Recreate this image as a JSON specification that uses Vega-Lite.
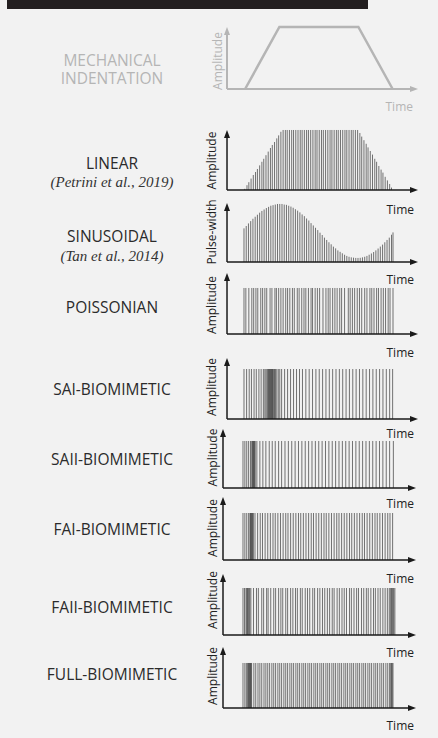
{
"$schema": "https://vega.github.io/schema/vega-lite/v6.json",
"autosize": {"type": "none"},
"padding": {"left": 7, "top": 0, "right": 431, "bottom": 738},
"background": "#f2f2f2",
"config": {"view": {"stroke": null}, "font": "Open Sans"},
"spacing": 0,
"bounds": "flush",
"vconcat": [
{"width": 361, "height": 9, "view": {"fill": "#231f20", "stroke": null}, "data": {"values": [{"part": "header"}]}, "mark": {"type": "rect", "color": "#231f20"}},

{"width": 411, "height": 80,
 "layer": [
  {"data": {"values": [{"t": 0.03, "a": 0}, {"t": 0.95, "a": 1}, {"t": 3.07, "a": 1}, {"t": 3.99, "a": 0}]},
   "mark": {"type": "line", "color": "#b5b5b5", "strokeWidth": 2.5},
   "encoding": {"x": {"field": "t", "type": "quantitative", "scale": {"domain": [-6.362, 4.671], "nice": false, "zero": false}, "axis": null},
                "y": {"field": "a", "type": "quantitative", "scale": {"domain": [0, 1.29], "nice": false, "zero": false}, "axis": null}}},
  {"data": {"values": [{"label": "MECHANICAL"}]}, "mark": {"type": "text", "font": "Open Sans", "fontSize": 15.5, "color": "#b5b5b5", "align": "center", "baseline": "middle"}, "encoding": {"text": {"field": "label"}, "x": {"datum": -3.544, "axis": null}, "y": {"datum": 0.45, "axis": null}}},
  {"data": {"values": [{"label": "INDENTATION"}]}, "mark": {"type": "text", "font": "Open Sans", "fontSize": 15.5, "color": "#b5b5b5", "align": "center", "baseline": "middle"}, "encoding": {"text": {"field": "label"}, "x": {"datum": -3.544, "axis": null}, "y": {"datum": 0.165, "axis": null}}},
  {"data": {"values": [{"label": "Amplitude"}]}, "mark": {"type": "text", "angle": 270, "font": "Open Sans", "fontSize": 12, "color": "#b5b5b5", "align": "center", "baseline": "middle"}, "encoding": {"text": {"field": "label"}, "x": {"datum": -0.711, "axis": null}, "y": {"datum": 0.452, "axis": null}}},
  {"data": {"values": [{"label": "Time"}]}, "mark": {"type": "text", "font": "Open Sans", "fontSize": 12, "color": "#b5b5b5", "align": "right", "baseline": "middle"}, "encoding": {"text": {"field": "label"}, "x": {"datum": 4.537, "axis": null}, "y": {"datum": -0.29, "scale": {"domain": [0, 1.29], "nice": false, "zero": false}, "axis": null}}},
  {"data": {"values": [{}]}, "mark": {"type": "rule", "color": "#b5b5b5", "strokeWidth": 2}, "encoding": {"x": {"datum": -0.456, "axis": null}, "x2": {"datum": 4.564}, "y": {"datum": 0, "axis": null}}},
  {"data": {"values": [{}]}, "mark": {"type": "rule", "color": "#b5b5b5", "strokeWidth": 2}, "encoding": {"x": {"datum": -0.456, "axis": null}, "y": {"datum": 0, "axis": null}, "y2": {"datum": 0.935}}},
  {"data": {"values": [{}]}, "mark": {"type": "point", "shape": "M0,0L1.5,4L-1.5,4Z", "size": 16, "filled": true, "opacity": 1, "color": "#b5b5b5", "strokeWidth": 0}, "encoding": {"x": {"datum": -0.456, "axis": null}, "y": {"datum": 1.0, "axis": null}}},
  {"data": {"values": [{}]}, "mark": {"type": "point", "shape": "M0,0L-4,-1.5L-4,1.5Z", "size": 16, "filled": true, "opacity": 1, "color": "#b5b5b5", "strokeWidth": 0}, "encoding": {"x": {"datum": 4.671, "axis": null}, "y": {"datum": 0, "axis": null}}}
 ]},

{"width": 411, "height": 101,
 "layer": [
  {"data": {"values": [{"t":0.02,"a":0.02},{"t":0.08,"a":0.08},{"t":0.13,"a":0.13},{"t":0.19,"a":0.19},{"t":0.25,"a":0.25},{"t":0.31,"a":0.3},{"t":0.36,"a":0.35},{"t":0.42,"a":0.41},{"t":0.48,"a":0.47},{"t":0.53,"a":0.52},{"t":0.59,"a":0.58},{"t":0.65,"a":0.64},{"t":0.71,"a":0.7},{"t":0.76,"a":0.75},{"t":0.82,"a":0.8},{"t":0.88,"a":0.86},{"t":0.93,"a":0.91},{"t":0.99,"a":0.97},{"t":1.05,"a":1},{"t":1.11,"a":1},{"t":1.16,"a":1},{"t":1.22,"a":1},{"t":1.28,"a":1},{"t":1.33,"a":1},{"t":1.39,"a":1},{"t":1.45,"a":1},{"t":1.51,"a":1},{"t":1.56,"a":1},{"t":1.62,"a":1},{"t":1.68,"a":1},{"t":1.73,"a":1},{"t":1.79,"a":1},{"t":1.85,"a":1},{"t":1.91,"a":1},{"t":1.96,"a":1},{"t":2.02,"a":1},{"t":2.08,"a":1},{"t":2.13,"a":1},{"t":2.19,"a":1},{"t":2.25,"a":1},{"t":2.31,"a":1},{"t":2.36,"a":1},{"t":2.42,"a":1},{"t":2.48,"a":1},{"t":2.53,"a":1},{"t":2.59,"a":1},{"t":2.65,"a":1},{"t":2.71,"a":1},{"t":2.76,"a":1},{"t":2.82,"a":1},{"t":2.88,"a":1},{"t":2.93,"a":1},{"t":2.99,"a":1},{"t":3.05,"a":1},{"t":3.11,"a":0.95},{"t":3.16,"a":0.89},{"t":3.22,"a":0.83},{"t":3.28,"a":0.77},{"t":3.33,"a":0.71},{"t":3.39,"a":0.65},{"t":3.45,"a":0.59},{"t":3.51,"a":0.52},{"t":3.56,"a":0.47},{"t":3.62,"a":0.4},{"t":3.68,"a":0.34},{"t":3.73,"a":0.29},{"t":3.79,"a":0.22},{"t":3.85,"a":0.16},{"t":3.91,"a":0.1},{"t":3.96,"a":0.04}]},
   "mark": {"type": "rule", "color": "#3a3a3a", "strokeWidth": 0.7},
   "encoding": {"x": {"field": "t", "type": "quantitative", "scale": {"domain": [-6.362, 4.671], "nice": false, "zero": false}, "axis": null},
                "y": {"field": "a", "type": "quantitative", "scale": {"domain": [0, 1.683], "nice": false, "zero": false}, "axis": null},
                "y2": {"datum": 0}}},
  {"data": {"values": [{"label": "LINEAR"}]}, "mark": {"type": "text", "font": "Open Sans", "fontSize": 15.5, "color": "#2b2b2b", "align": "center", "baseline": "middle"}, "encoding": {"text": {"field": "label"}, "x": {"datum": -3.544, "axis": null}, "y": {"datum": 0.434, "axis": null}}},
  {"data": {"values": [{"label": "(Petrini et al., 2019)"}]}, "mark": {"type": "text", "font": "Liberation Serif", "fontStyle": "italic", "fontSize": 15, "color": "#333333", "align": "center", "baseline": "middle"}, "encoding": {"text": {"field": "label"}, "x": {"datum": -3.544, "axis": null}, "y": {"datum": 0.133, "axis": null}}},
  {"data": {"values": [{"label": "Amplitude"}]}, "mark": {"type": "text", "angle": 270, "font": "Open Sans", "fontSize": 12, "color": "#222222", "align": "center", "baseline": "middle"}, "encoding": {"text": {"field": "label"}, "x": {"datum": -0.846, "axis": null}, "y": {"datum": 0.492, "axis": null}}},
  {"data": {"values": [{"label": "Time"}]}, "mark": {"type": "text", "font": "Open Sans", "fontSize": 12, "color": "#222222", "align": "right", "baseline": "middle"}, "encoding": {"text": {"field": "label"}, "x": {"datum": 4.564, "axis": null}, "y": {"datum": -0.334, "scale": {"domain": [0, 1.683], "nice": false, "zero": false}, "axis": null}}},
  {"data": {"values": [{}]}, "mark": {"type": "rule", "color": "#1a1a1a", "strokeWidth": 1.5}, "encoding": {"x": {"datum": -0.456, "axis": null}, "x2": {"datum": 4.564}, "y": {"datum": 0, "axis": null}}},
  {"data": {"values": [{}]}, "mark": {"type": "rule", "color": "#1a1a1a", "strokeWidth": 1.5}, "encoding": {"x": {"datum": -0.456, "axis": null}, "y": {"datum": 0, "axis": null}, "y2": {"datum": 0.933}}},
  {"data": {"values": [{}]}, "mark": {"type": "point", "shape": "M0,0L1.5,4L-1.5,4Z", "size": 16, "filled": true, "opacity": 1, "color": "#1a1a1a", "strokeWidth": 0}, "encoding": {"x": {"datum": -0.456, "axis": null}, "y": {"datum": 1.0, "axis": null}}},
  {"data": {"values": [{}]}, "mark": {"type": "point", "shape": "M0,0L-4,-1.5L-4,1.5Z", "size": 16, "filled": true, "opacity": 1, "color": "#1a1a1a", "strokeWidth": 0}, "encoding": {"x": {"datum": 4.671, "axis": null}, "y": {"datum": 0, "axis": null}}}
 ]},

{"width": 411, "height": 72,
 "layer": [
  {"data": {"values": [{"t":0,"a":0.58},{"t":0.06,"a":0.62},{"t":0.12,"a":0.665},{"t":0.18,"a":0.705},{"t":0.24,"a":0.745},{"t":0.3,"a":0.78},{"t":0.36,"a":0.815},{"t":0.42,"a":0.85},{"t":0.48,"a":0.88},{"t":0.54,"a":0.905},{"t":0.6,"a":0.93},{"t":0.66,"a":0.95},{"t":0.72,"a":0.97},{"t":0.78,"a":0.98},{"t":0.84,"a":0.99},{"t":0.9,"a":1},{"t":0.96,"a":1},{"t":1.02,"a":1},{"t":1.08,"a":0.99},{"t":1.14,"a":0.985},{"t":1.2,"a":0.97},{"t":1.26,"a":0.955},{"t":1.32,"a":0.935},{"t":1.38,"a":0.91},{"t":1.44,"a":0.885},{"t":1.5,"a":0.855},{"t":1.56,"a":0.82},{"t":1.62,"a":0.79},{"t":1.68,"a":0.75},{"t":1.74,"a":0.715},{"t":1.8,"a":0.67},{"t":1.86,"a":0.63},{"t":1.92,"a":0.59},{"t":1.98,"a":0.55},{"t":2.04,"a":0.505},{"t":2.1,"a":0.465},{"t":2.16,"a":0.42},{"t":2.22,"a":0.38},{"t":2.28,"a":0.34},{"t":2.34,"a":0.305},{"t":2.4,"a":0.265},{"t":2.46,"a":0.235},{"t":2.52,"a":0.2},{"t":2.58,"a":0.175},{"t":2.64,"a":0.15},{"t":2.7,"a":0.125},{"t":2.76,"a":0.105},{"t":2.82,"a":0.09},{"t":2.88,"a":0.08},{"t":2.94,"a":0.075},{"t":3,"a":0.07},{"t":3.06,"a":0.07},{"t":3.12,"a":0.072},{"t":3.18,"a":0.08},{"t":3.24,"a":0.09},{"t":3.3,"a":0.105},{"t":3.36,"a":0.125},{"t":3.42,"a":0.147},{"t":3.48,"a":0.172},{"t":3.54,"a":0.2},{"t":3.6,"a":0.232},{"t":3.66,"a":0.266},{"t":3.72,"a":0.3},{"t":3.78,"a":0.34},{"t":3.84,"a":0.38},{"t":3.9,"a":0.42},{"t":3.96,"a":0.47},{"t":4.0,"a":0.51}]},
   "mark": {"type": "rule", "color": "#3a3a3a", "strokeWidth": 0.7},
   "encoding": {"x": {"field": "t", "type": "quantitative", "scale": {"domain": [-6.362, 4.671], "nice": false, "zero": false}, "axis": null},
                "y": {"field": "a", "type": "quantitative", "scale": {"domain": [0, 1.241], "nice": false, "zero": false}, "axis": null},
                "y2": {"datum": 0}}},
  {"data": {"values": [{"label": "SINUSOIDAL"}]}, "mark": {"type": "text", "font": "Open Sans", "fontSize": 15.5, "color": "#2b2b2b", "align": "center", "baseline": "middle"}, "encoding": {"text": {"field": "label"}, "x": {"datum": -3.544, "axis": null}, "y": {"datum": 0.437, "axis": null}}},
  {"data": {"values": [{"label": "(Tan et al., 2014)"}]}, "mark": {"type": "text", "font": "Liberation Serif", "fontStyle": "italic", "fontSize": 15, "color": "#333333", "align": "center", "baseline": "middle"}, "encoding": {"text": {"field": "label"}, "x": {"datum": -3.544, "axis": null}, "y": {"datum": 0.112, "axis": null}}},
  {"data": {"values": [{"label": "Pulse-width"}]}, "mark": {"type": "text", "angle": 270, "font": "Open Sans", "fontSize": 12, "color": "#222222", "align": "center", "baseline": "middle"}, "encoding": {"text": {"field": "label"}, "x": {"datum": -0.859, "axis": null}, "y": {"datum": 0.517, "axis": null}}},
  {"data": {"values": [{"label": "Time"}]}, "mark": {"type": "text", "font": "Open Sans", "fontSize": 12, "color": "#222222", "align": "right", "baseline": "middle"}, "encoding": {"text": {"field": "label"}, "x": {"datum": 4.564, "axis": null}, "y": {"datum": -0.31, "scale": {"domain": [0, 1.241], "nice": false, "zero": false}, "axis": null}}},
  {"data": {"values": [{}]}, "mark": {"type": "rule", "color": "#1a1a1a", "strokeWidth": 1.5}, "encoding": {"x": {"datum": -0.456, "axis": null}, "x2": {"datum": 4.564}, "y": {"datum": 0, "axis": null}}},
  {"data": {"values": [{}]}, "mark": {"type": "rule", "color": "#1a1a1a", "strokeWidth": 1.5}, "encoding": {"x": {"datum": -0.456, "axis": null}, "y": {"datum": 0, "axis": null}, "y2": {"datum": 0.948}}},
  {"data": {"values": [{}]}, "mark": {"type": "point", "shape": "M0,0L1.5,4L-1.5,4Z", "size": 16, "filled": true, "opacity": 1, "color": "#1a1a1a", "strokeWidth": 0}, "encoding": {"x": {"datum": -0.456, "axis": null}, "y": {"datum": 1.017, "axis": null}}},
  {"data": {"values": [{}]}, "mark": {"type": "point", "shape": "M0,0L-4,-1.5L-4,1.5Z", "size": 16, "filled": true, "opacity": 1, "color": "#1a1a1a", "strokeWidth": 0}, "encoding": {"x": {"datum": 4.671, "axis": null}, "y": {"datum": 0, "axis": null}}}
 ]},

{"width": 411, "height": 72,
 "layer": [
  {"data": {"values": [{"t":0},{"t":0.05},{"t":0.13},{"t":0.21},{"t":0.26},{"t":0.32},{"t":0.37},{"t":0.45},{"t":0.5},{"t":0.56},{"t":0.61},{"t":0.7},{"t":0.75},{"t":0.83},{"t":0.87},{"t":0.93},{"t":0.99},{"t":1.05},{"t":1.12},{"t":1.17},{"t":1.23},{"t":1.3},{"t":1.35},{"t":1.43},{"t":1.48},{"t":1.55},{"t":1.61},{"t":1.66},{"t":1.73},{"t":1.8},{"t":1.84},{"t":1.91},{"t":1.97},{"t":2.03},{"t":2.12},{"t":2.2},{"t":2.26},{"t":2.31},{"t":2.38},{"t":2.44},{"t":2.5},{"t":2.57},{"t":2.62},{"t":2.7},{"t":2.8},{"t":2.85},{"t":2.91},{"t":2.97},{"t":3.04},{"t":3.1},{"t":3.16},{"t":3.24},{"t":3.3},{"t":3.38},{"t":3.43},{"t":3.49},{"t":3.56},{"t":3.61},{"t":3.68},{"t":3.74},{"t":3.8},{"t":3.87},{"t":3.92},{"t":4.0}]},
   "mark": {"type": "rule", "color": "#3a3a3a", "strokeWidth": 0.7},
   "encoding": {"x": {"field": "t", "type": "quantitative", "scale": {"domain": [-6.362, 4.671], "nice": false, "zero": false}, "axis": null},
                "y": {"datum": 1, "type": "quantitative", "scale": {"domain": [0, 1.565], "nice": false, "zero": false}, "axis": null},
                "y2": {"datum": 0}}},
  {"data": {"values": [{"label": "POISSONIAN"}]}, "mark": {"type": "text", "font": "Open Sans", "fontSize": 15.5, "color": "#2b2b2b", "align": "center", "baseline": "middle"}, "encoding": {"text": {"field": "label"}, "x": {"datum": -3.544, "axis": null}, "y": {"datum": 0.561, "axis": null}}},
  {"data": {"values": [{"label": "Amplitude"}]}, "mark": {"type": "text", "angle": 270, "font": "Open Sans", "fontSize": 12, "color": "#222222", "align": "center", "baseline": "middle"}, "encoding": {"text": {"field": "label"}, "x": {"datum": -0.846, "axis": null}, "y": {"datum": 0.63, "axis": null}}},
  {"data": {"values": [{"label": "Time"}]}, "mark": {"type": "text", "font": "Open Sans", "fontSize": 12, "color": "#222222", "align": "right", "baseline": "middle"}, "encoding": {"text": {"field": "label"}, "x": {"datum": 4.564, "axis": null}, "y": {"datum": -0.413, "scale": {"domain": [0, 1.565], "nice": false, "zero": false}, "axis": null}}},
  {"data": {"values": [{}]}, "mark": {"type": "rule", "color": "#1a1a1a", "strokeWidth": 1.5}, "encoding": {"x": {"datum": -0.456, "axis": null}, "x2": {"datum": 4.564}, "y": {"datum": 0, "axis": null}}},
  {"data": {"values": [{}]}, "mark": {"type": "rule", "color": "#1a1a1a", "strokeWidth": 1.5}, "encoding": {"x": {"datum": -0.456, "axis": null}, "y": {"datum": 0, "axis": null}, "y2": {"datum": 1.239}}},
  {"data": {"values": [{}]}, "mark": {"type": "point", "shape": "M0,0L1.5,4L-1.5,4Z", "size": 16, "filled": true, "opacity": 1, "color": "#1a1a1a", "strokeWidth": 0}, "encoding": {"x": {"datum": -0.456, "axis": null}, "y": {"datum": 1.326, "axis": null}}},
  {"data": {"values": [{}]}, "mark": {"type": "point", "shape": "M0,0L-4,-1.5L-4,1.5Z", "size": 16, "filled": true, "opacity": 1, "color": "#1a1a1a", "strokeWidth": 0}, "encoding": {"x": {"datum": 4.671, "axis": null}, "y": {"datum": 0, "axis": null}}}
 ]},

{"width": 411, "height": 85,
 "layer": [
  {"data": {"values": [{"t":0},{"t":0.07},{"t":0.14},{"t":0.2},{"t":0.27},{"t":0.33},{"t":0.4},{"t":0.46},{"t":0.52},{"t":0.56},{"t":0.59},{"t":0.62},{"t":0.64},{"t":0.66},{"t":0.675},{"t":0.69},{"t":0.705},{"t":0.72},{"t":0.735},{"t":0.75},{"t":0.765},{"t":0.78},{"t":0.8},{"t":0.82},{"t":0.845},{"t":0.88},{"t":0.92},{"t":0.96},{"t":1.01},{"t":1.09},{"t":1.17},{"t":1.25},{"t":1.33},{"t":1.41},{"t":1.49},{"t":1.57},{"t":1.66},{"t":1.75},{"t":1.84},{"t":1.93},{"t":2.02},{"t":2.11},{"t":2.2},{"t":2.29},{"t":2.38},{"t":2.47},{"t":2.56},{"t":2.65},{"t":2.74},{"t":2.83},{"t":2.92},{"t":3.01},{"t":3.1},{"t":3.19},{"t":3.28},{"t":3.37},{"t":3.46},{"t":3.55},{"t":3.64},{"t":3.73},{"t":3.82},{"t":3.91},{"t":3.99}]},
   "mark": {"type": "rule", "color": "#3a3a3a", "strokeWidth": 0.7},
   "encoding": {"x": {"field": "t", "type": "quantitative", "scale": {"domain": [-6.362, 4.671], "nice": false, "zero": false}, "axis": null},
                "y": {"datum": 1, "type": "quantitative", "scale": {"domain": [0, 1.7], "nice": false, "zero": false}, "axis": null},
                "y2": {"datum": 0}}},
  {"data": {"values": [{"label": "SAI-BIOMIMETIC"}]}, "mark": {"type": "text", "font": "Open Sans", "fontSize": 15.5, "color": "#2b2b2b", "align": "center", "baseline": "middle"}, "encoding": {"text": {"field": "label"}, "x": {"datum": -3.544, "axis": null}, "y": {"datum": 0.59, "axis": null}}},
  {"data": {"values": [{"label": "Amplitude"}]}, "mark": {"type": "text", "angle": 270, "font": "Open Sans", "fontSize": 12, "color": "#222222", "align": "center", "baseline": "middle"}, "encoding": {"text": {"field": "label"}, "x": {"datum": -0.846, "axis": null}, "y": {"datum": 0.64, "axis": null}}},
  {"data": {"values": [{"label": "Time"}]}, "mark": {"type": "text", "font": "Open Sans", "fontSize": 12, "color": "#222222", "align": "right", "baseline": "middle"}, "encoding": {"text": {"field": "label"}, "x": {"datum": 4.564, "axis": null}, "y": {"datum": -0.3, "scale": {"domain": [0, 1.7], "nice": false, "zero": false}, "axis": null}}},
  {"data": {"values": [{}]}, "mark": {"type": "rule", "color": "#1a1a1a", "strokeWidth": 1.5}, "encoding": {"x": {"datum": -0.456, "axis": null}, "x2": {"datum": 4.564}, "y": {"datum": 0, "axis": null}}},
  {"data": {"values": [{}]}, "mark": {"type": "rule", "color": "#1a1a1a", "strokeWidth": 1.5}, "encoding": {"x": {"datum": -0.456, "axis": null}, "y": {"datum": 0, "axis": null}, "y2": {"datum": 1.14}}},
  {"data": {"values": [{}]}, "mark": {"type": "point", "shape": "M0,0L1.5,4L-1.5,4Z", "size": 16, "filled": true, "opacity": 1, "color": "#1a1a1a", "strokeWidth": 0}, "encoding": {"x": {"datum": -0.456, "axis": null}, "y": {"datum": 1.22, "axis": null}}},
  {"data": {"values": [{}]}, "mark": {"type": "point", "shape": "M0,0L-4,-1.5L-4,1.5Z", "size": 16, "filled": true, "opacity": 1, "color": "#1a1a1a", "strokeWidth": 0}, "encoding": {"x": {"datum": 4.671, "axis": null}, "y": {"datum": 0, "axis": null}}}
 ]},

{"width": 411, "height": 69,
 "layer": [
  {"data": {"values": [{"t":0},{"t":0.05},{"t":0.1},{"t":0.15},{"t":0.2},{"t":0.235},{"t":0.25},{"t":0.265},{"t":0.28},{"t":0.295},{"t":0.31},{"t":0.325},{"t":0.37},{"t":0.45},{"t":0.53},{"t":0.61},{"t":0.7},{"t":0.78},{"t":0.86},{"t":0.95},{"t":1.03},{"t":1.12},{"t":1.21},{"t":1.3},{"t":1.39},{"t":1.48},{"t":1.57},{"t":1.66},{"t":1.75},{"t":1.84},{"t":1.93},{"t":2.02},{"t":2.11},{"t":2.2},{"t":2.29},{"t":2.38},{"t":2.47},{"t":2.56},{"t":2.65},{"t":2.74},{"t":2.83},{"t":2.92},{"t":3.01},{"t":3.1},{"t":3.19},{"t":3.28},{"t":3.37},{"t":3.46},{"t":3.55},{"t":3.64},{"t":3.73},{"t":3.82},{"t":3.91},{"t":4.01}]},
   "mark": {"type": "rule", "color": "#3a3a3a", "strokeWidth": 0.7},
   "encoding": {"x": {"field": "t", "type": "quantitative", "scale": {"domain": [-6.293, 4.667], "nice": false, "zero": false}, "axis": null},
                "y": {"datum": 1, "type": "quantitative", "scale": {"domain": [0, 1.468], "nice": false, "zero": false}, "axis": null},
                "y2": {"datum": 0}}},
  {"data": {"values": [{"label": "SAII-BIOMIMETIC"}]}, "mark": {"type": "text", "font": "Open Sans", "fontSize": 15.5, "color": "#2b2b2b", "align": "center", "baseline": "middle"}, "encoding": {"text": {"field": "label"}, "x": {"datum": -3.493, "axis": null}, "y": {"datum": 0.6, "axis": null}}},
  {"data": {"values": [{"label": "Amplitude"}]}, "mark": {"type": "text", "angle": 270, "font": "Open Sans", "fontSize": 12, "color": "#222222", "align": "center", "baseline": "middle"}, "encoding": {"text": {"field": "label"}, "x": {"datum": -0.813, "axis": null}, "y": {"datum": 0.649, "axis": null}}},
  {"data": {"values": [{"label": "Time"}]}, "mark": {"type": "text", "font": "Open Sans", "fontSize": 12, "color": "#222222", "align": "right", "baseline": "middle"}, "encoding": {"text": {"field": "label"}, "x": {"datum": 4.56, "axis": null}, "y": {"datum": -0.34, "scale": {"domain": [0, 1.468], "nice": false, "zero": false}, "axis": null}}},
  {"data": {"values": [{}]}, "mark": {"type": "rule", "color": "#1a1a1a", "strokeWidth": 1.5}, "encoding": {"x": {"datum": -0.533, "axis": null}, "x2": {"datum": 4.506}, "y": {"datum": 0, "axis": null}}},
  {"data": {"values": [{}]}, "mark": {"type": "rule", "color": "#1a1a1a", "strokeWidth": 1.5}, "encoding": {"x": {"datum": -0.533, "axis": null}, "y": {"datum": 0, "axis": null}, "y2": {"datum": 1.17}}},
  {"data": {"values": [{}]}, "mark": {"type": "point", "shape": "M0,0L1.5,4L-1.5,4Z", "size": 16, "filled": true, "opacity": 1, "color": "#1a1a1a", "strokeWidth": 0}, "encoding": {"x": {"datum": -0.533, "axis": null}, "y": {"datum": 1.255, "axis": null}}},
  {"data": {"values": [{}]}, "mark": {"type": "point", "shape": "M0,0L-4,-1.5L-4,1.5Z", "size": 16, "filled": true, "opacity": 1, "color": "#1a1a1a", "strokeWidth": 0}, "encoding": {"x": {"datum": 4.613, "axis": null}, "y": {"datum": 0, "axis": null}}}
 ]},

{"width": 411, "height": 72,
 "layer": [
  {"data": {"values": [{"t":0},{"t":0.05},{"t":0.1},{"t":0.15},{"t":0.185},{"t":0.2},{"t":0.215},{"t":0.23},{"t":0.245},{"t":0.26},{"t":0.275},{"t":0.32},{"t":0.39},{"t":0.46},{"t":0.52},{"t":0.59},{"t":0.66},{"t":0.73},{"t":0.8},{"t":0.86},{"t":0.93},{"t":1.0},{"t":1.07},{"t":1.14},{"t":1.2},{"t":1.27},{"t":1.34},{"t":1.41},{"t":1.48},{"t":1.54},{"t":1.61},{"t":1.68},{"t":1.75},{"t":1.82},{"t":1.88},{"t":1.95},{"t":2.02},{"t":2.09},{"t":2.16},{"t":2.22},{"t":2.29},{"t":2.36},{"t":2.43},{"t":2.5},{"t":2.56},{"t":2.63},{"t":2.7},{"t":2.77},{"t":2.84},{"t":2.9},{"t":2.97},{"t":3.04},{"t":3.11},{"t":3.18},{"t":3.24},{"t":3.31},{"t":3.38},{"t":3.45},{"t":3.52},{"t":3.58},{"t":3.65},{"t":3.72},{"t":3.79},{"t":3.86},{"t":3.92},{"t":3.99}]},
   "mark": {"type": "rule", "color": "#3a3a3a", "strokeWidth": 0.7},
   "encoding": {"x": {"field": "t", "type": "quantitative", "scale": {"domain": [-6.293, 4.667], "nice": false, "zero": false}, "axis": null},
                "y": {"datum": 1, "type": "quantitative", "scale": {"domain": [0, 1.532], "nice": false, "zero": false}, "axis": null},
                "y2": {"datum": 0}}},
  {"data": {"values": [{"label": "FAI-BIOMIMETIC"}]}, "mark": {"type": "text", "font": "Open Sans", "fontSize": 15.5, "color": "#2b2b2b", "align": "center", "baseline": "middle"}, "encoding": {"text": {"field": "label"}, "x": {"datum": -3.493, "axis": null}, "y": {"datum": 0.638, "axis": null}}},
  {"data": {"values": [{"label": "Amplitude"}]}, "mark": {"type": "text", "angle": 270, "font": "Open Sans", "fontSize": 12, "color": "#222222", "align": "center", "baseline": "middle"}, "encoding": {"text": {"field": "label"}, "x": {"datum": -0.813, "axis": null}, "y": {"datum": 0.681, "axis": null}}},
  {"data": {"values": [{"label": "Time"}]}, "mark": {"type": "text", "font": "Open Sans", "fontSize": 12, "color": "#222222", "align": "right", "baseline": "middle"}, "encoding": {"text": {"field": "label"}, "x": {"datum": 4.56, "axis": null}, "y": {"datum": -0.404, "scale": {"domain": [0, 1.532], "nice": false, "zero": false}, "axis": null}}},
  {"data": {"values": [{}]}, "mark": {"type": "rule", "color": "#1a1a1a", "strokeWidth": 1.5}, "encoding": {"x": {"datum": -0.533, "axis": null}, "x2": {"datum": 4.506}, "y": {"datum": 0, "axis": null}}},
  {"data": {"values": [{}]}, "mark": {"type": "rule", "color": "#1a1a1a", "strokeWidth": 1.5}, "encoding": {"x": {"datum": -0.533, "axis": null}, "y": {"datum": 0, "axis": null}, "y2": {"datum": 1.255}}},
  {"data": {"values": [{}]}, "mark": {"type": "point", "shape": "M0,0L1.5,4L-1.5,4Z", "size": 16, "filled": true, "opacity": 1, "color": "#1a1a1a", "strokeWidth": 0}, "encoding": {"x": {"datum": -0.533, "axis": null}, "y": {"datum": 1.34, "axis": null}}},
  {"data": {"values": [{}]}, "mark": {"type": "point", "shape": "M0,0L-4,-1.5L-4,1.5Z", "size": 16, "filled": true, "opacity": 1, "color": "#1a1a1a", "strokeWidth": 0}, "encoding": {"x": {"datum": 4.613, "axis": null}, "y": {"datum": 0, "axis": null}}}
 ]},

{"width": 411, "height": 75,
 "layer": [
  {"data": {"values": [{"t":0},{"t":0.04},{"t":0.08},{"t":0.1},{"t":0.12},{"t":0.14},{"t":0.16},{"t":0.18},{"t":0.21},{"t":0.28},{"t":0.36},{"t":0.41},{"t":0.5},{"t":0.55},{"t":0.63},{"t":0.67},{"t":0.74},{"t":0.82},{"t":0.87},{"t":0.95},{"t":1.01},{"t":1.06},{"t":1.14},{"t":1.19},{"t":1.27},{"t":1.33},{"t":1.4},{"t":1.45},{"t":1.53},{"t":1.58},{"t":1.66},{"t":1.72},{"t":1.78},{"t":1.86},{"t":1.91},{"t":1.99},{"t":2.05},{"t":2.12},{"t":2.18},{"t":2.25},{"t":2.31},{"t":2.38},{"t":2.43},{"t":2.51},{"t":2.57},{"t":2.64},{"t":2.7},{"t":2.76},{"t":2.84},{"t":2.89},{"t":2.96},{"t":3.03},{"t":3.08},{"t":3.16},{"t":3.22},{"t":3.29},{"t":3.34},{"t":3.41},{"t":3.48},{"t":3.53},{"t":3.6},{"t":3.66},{"t":3.73},{"t":3.79},{"t":3.85},{"t":3.9},{"t":3.93},{"t":3.96},{"t":3.98},{"t":4.0},{"t":4.02},{"t":4.05}]},
   "mark": {"type": "rule", "color": "#3a3a3a", "strokeWidth": 0.7},
   "encoding": {"x": {"field": "t", "type": "quantitative", "scale": {"domain": [-6.293, 4.667], "nice": false, "zero": false}, "axis": null},
                "y": {"datum": 1, "type": "quantitative", "scale": {"domain": [0, 1.596], "nice": false, "zero": false}, "axis": null},
                "y2": {"datum": 0}}},
  {"data": {"values": [{"label": "FAII-BIOMIMETIC"}]}, "mark": {"type": "text", "font": "Open Sans", "fontSize": 15.5, "color": "#2b2b2b", "align": "center", "baseline": "middle"}, "encoding": {"text": {"field": "label"}, "x": {"datum": -3.493, "axis": null}, "y": {"datum": 0.57, "axis": null}}},
  {"data": {"values": [{"label": "Amplitude"}]}, "mark": {"type": "text", "angle": 270, "font": "Open Sans", "fontSize": 12, "color": "#222222", "align": "center", "baseline": "middle"}, "encoding": {"text": {"field": "label"}, "x": {"datum": -0.813, "axis": null}, "y": {"datum": 0.745, "axis": null}}},
  {"data": {"values": [{"label": "Time"}]}, "mark": {"type": "text", "font": "Open Sans", "fontSize": 12, "color": "#222222", "align": "right", "baseline": "middle"}, "encoding": {"text": {"field": "label"}, "x": {"datum": 4.56, "axis": null}, "y": {"datum": -0.383, "scale": {"domain": [0, 1.596], "nice": false, "zero": false}, "axis": null}}},
  {"data": {"values": [{}]}, "mark": {"type": "rule", "color": "#1a1a1a", "strokeWidth": 1.5}, "encoding": {"x": {"datum": -0.533, "axis": null}, "x2": {"datum": 4.506}, "y": {"datum": 0, "axis": null}}},
  {"data": {"values": [{}]}, "mark": {"type": "rule", "color": "#1a1a1a", "strokeWidth": 1.5}, "encoding": {"x": {"datum": -0.533, "axis": null}, "y": {"datum": 0, "axis": null}, "y2": {"datum": 1.213}}},
  {"data": {"values": [{}]}, "mark": {"type": "point", "shape": "M0,0L1.5,4L-1.5,4Z", "size": 16, "filled": true, "opacity": 1, "color": "#1a1a1a", "strokeWidth": 0}, "encoding": {"x": {"datum": -0.533, "axis": null}, "y": {"datum": 1.298, "axis": null}}},
  {"data": {"values": [{}]}, "mark": {"type": "point", "shape": "M0,0L-4,-1.5L-4,1.5Z", "size": 16, "filled": true, "opacity": 1, "color": "#1a1a1a", "strokeWidth": 0}, "encoding": {"x": {"datum": 4.613, "axis": null}, "y": {"datum": 0, "axis": null}}}
 ]},

{"width": 411, "height": 73,
 "layer": [
  {"data": {"values": [{"t":0},{"t":0.05},{"t":0.09},{"t":0.125},{"t":0.14},{"t":0.155},{"t":0.17},{"t":0.185},{"t":0.2},{"t":0.215},{"t":0.23},{"t":0.29},{"t":0.34},{"t":0.4},{"t":0.45},{"t":0.5},{"t":0.56},{"t":0.61},{"t":0.66},{"t":0.71},{"t":0.77},{"t":0.82},{"t":0.87},{"t":0.93},{"t":0.98},{"t":1.03},{"t":1.09},{"t":1.14},{"t":1.19},{"t":1.25},{"t":1.3},{"t":1.35},{"t":1.41},{"t":1.46},{"t":1.51},{"t":1.57},{"t":1.62},{"t":1.67},{"t":1.73},{"t":1.78},{"t":1.83},{"t":1.89},{"t":1.94},{"t":1.99},{"t":2.05},{"t":2.1},{"t":2.15},{"t":2.21},{"t":2.26},{"t":2.31},{"t":2.37},{"t":2.42},{"t":2.47},{"t":2.53},{"t":2.58},{"t":2.63},{"t":2.69},{"t":2.74},{"t":2.79},{"t":2.85},{"t":2.9},{"t":2.95},{"t":3.01},{"t":3.06},{"t":3.11},{"t":3.17},{"t":3.22},{"t":3.27},{"t":3.33},{"t":3.38},{"t":3.43},{"t":3.49},{"t":3.54},{"t":3.59},{"t":3.65},{"t":3.7},{"t":3.75},{"t":3.81},{"t":3.86},{"t":3.91},{"t":3.94},{"t":3.96},{"t":3.98},{"t":4.0}]},
   "mark": {"type": "rule", "color": "#3a3a3a", "strokeWidth": 0.7},
   "encoding": {"x": {"field": "t", "type": "quantitative", "scale": {"domain": [-6.293, 4.667], "nice": false, "zero": false}, "axis": null},
                "y": {"datum": 1, "type": "quantitative", "scale": {"domain": [0, 1.622], "nice": false, "zero": false}, "axis": null},
                "y2": {"datum": 0}}},
  {"data": {"values": [{"label": "FULL-BIOMIMETIC"}]}, "mark": {"type": "text", "font": "Open Sans", "fontSize": 15.5, "color": "#2b2b2b", "align": "center", "baseline": "middle"}, "encoding": {"text": {"field": "label"}, "x": {"datum": -3.493, "axis": null}, "y": {"datum": 0.739, "axis": null}}},
  {"data": {"values": [{"label": "Amplitude"}]}, "mark": {"type": "text", "angle": 270, "font": "Open Sans", "fontSize": 12, "color": "#222222", "align": "center", "baseline": "middle"}, "encoding": {"text": {"field": "label"}, "x": {"datum": -0.813, "axis": null}, "y": {"datum": 0.711, "axis": null}}},
  {"data": {"values": [{"label": "Time"}]}, "mark": {"type": "text", "font": "Open Sans", "fontSize": 12, "color": "#222222", "align": "right", "baseline": "middle"}, "encoding": {"text": {"field": "label"}, "x": {"datum": 4.56, "axis": null}, "y": {"datum": -0.4, "scale": {"domain": [0, 1.622], "nice": false, "zero": false}, "axis": null}}},
  {"data": {"values": [{}]}, "mark": {"type": "rule", "color": "#1a1a1a", "strokeWidth": 1.5}, "encoding": {"x": {"datum": -0.533, "axis": null}, "x2": {"datum": 4.506}, "y": {"datum": 0, "axis": null}}},
  {"data": {"values": [{}]}, "mark": {"type": "rule", "color": "#1a1a1a", "strokeWidth": 1.5}, "encoding": {"x": {"datum": -0.533, "axis": null}, "y": {"datum": 0, "axis": null}, "y2": {"datum": 1.267}}},
  {"data": {"values": [{}]}, "mark": {"type": "point", "shape": "M0,0L1.5,4L-1.5,4Z", "size": 16, "filled": true, "opacity": 1, "color": "#1a1a1a", "strokeWidth": 0}, "encoding": {"x": {"datum": -0.533, "axis": null}, "y": {"datum": 1.356, "axis": null}}},
  {"data": {"values": [{}]}, "mark": {"type": "point", "shape": "M0,0L-4,-1.5L-4,1.5Z", "size": 16, "filled": true, "opacity": 1, "color": "#1a1a1a", "strokeWidth": 0}, "encoding": {"x": {"datum": 4.613, "axis": null}, "y": {"datum": 0, "axis": null}}}
 ]}
]
}
